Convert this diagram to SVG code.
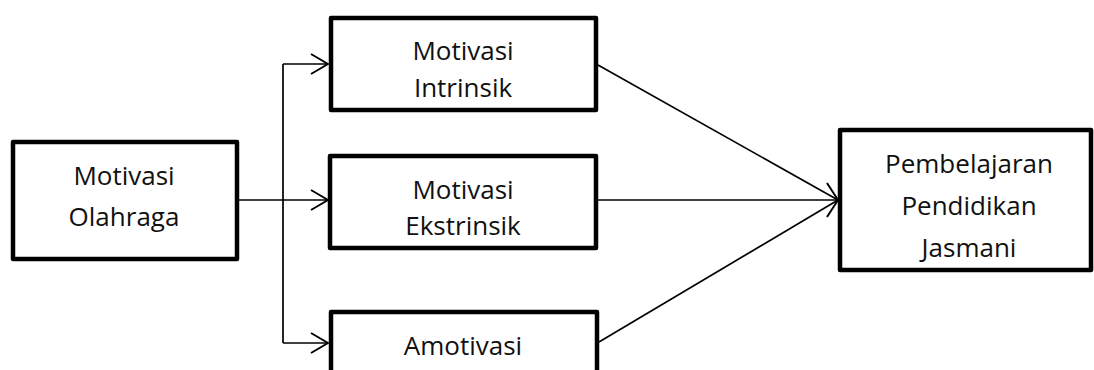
<svg xmlns="http://www.w3.org/2000/svg" width="1094" height="370" viewBox="0 0 1094 370">
<defs>
<style>
.box{fill:#fff;stroke:#000;stroke-width:4.5;stroke-linejoin:round}
.lbl{font-family:"Open Sans","Liberation Sans",sans-serif;font-size:26px;fill:#111;text-anchor:middle}
.con{fill:none;stroke:#000;stroke-width:1.7}
</style>
<marker id="arr" viewBox="0 0 20 24" refX="19" refY="12" markerWidth="20" markerHeight="24" markerUnits="userSpaceOnUse" orient="auto">
<path d="M2,2 L19,12 L2,22" fill="none" stroke="#000" stroke-width="2"/>
</marker>
<marker id="arr2" viewBox="0 0 14 40" refX="13" refY="20" markerWidth="14" markerHeight="40" markerUnits="userSpaceOnUse" orient="auto">
<path d="M2,3 L13,20 L2,37" fill="none" stroke="#000" stroke-width="2"/>
</marker>
</defs>
<rect width="1094" height="370" fill="#fff"/>
<g id="motivasi-olahraga">
<rect class="box" x="13" y="142" width="224" height="117"/>
<text class="lbl" x="124" y="185">Motivasi</text>
<text class="lbl" x="124" y="226">Olahraga</text>
</g>
<g id="motivasi-intrinsik">
<rect class="box" x="331" y="18" width="265" height="92"/>
<text class="lbl" x="463" y="60">Motivasi</text>
<text class="lbl" x="463" y="97">Intrinsik</text>
</g>
<g id="motivasi-ekstrinsik">
<rect class="box" x="330" y="156" width="266" height="92"/>
<text class="lbl" x="463" y="199">Motivasi</text>
<text class="lbl" x="463" y="235">Ekstrinsik</text>
</g>
<g id="amotivasi">
<rect class="box" x="331" y="312" width="266" height="92"/>
<text class="lbl" x="463" y="355">Amotivasi</text>
</g>
<g id="pembelajaran">
<rect class="box" x="840" y="130" width="251" height="140"/>
<text class="lbl" x="969" y="173">Pembelajaran</text>
<text class="lbl" x="969" y="215">Pendidikan</text>
<text class="lbl" x="969" y="257">Jasmani</text>
</g>
<g id="connectors">
<path class="con" d="M239,200 H283"/>
<path class="con" d="M283,64 V343"/>
<path class="con" d="M283,64 H328" marker-end="url(#arr)"/>
<path class="con" d="M283,200 H328" marker-end="url(#arr)"/>
<path class="con" d="M283,343 H328" marker-end="url(#arr)"/>
<path class="con" d="M598,65 L838,200"/>
<path class="con" d="M599,342 L838,200"/>
<path class="con" d="M598,200 H838" marker-end="url(#arr2)"/>
</g>
</svg>
